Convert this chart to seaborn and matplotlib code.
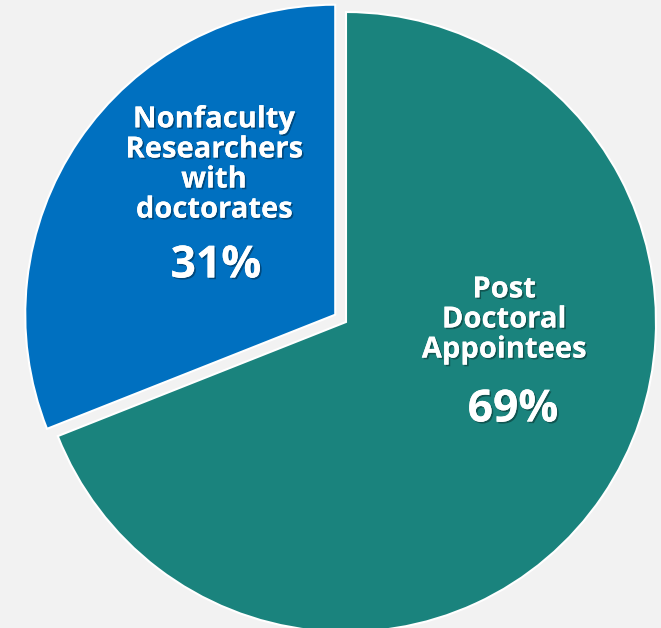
import matplotlib
matplotlib.use("Agg")
import matplotlib.pyplot as plt
import matplotlib.patheffects as pe
import seaborn as sns

# data
labels = ["Post\nDoctoral\nAppointees", "Nonfaculty\nResearchers\nwith\ndoctorates"]
shares = [69, 31]
colors = ["#1a837d", "#0070c0"]

sns.set_theme(style="white")
plt.rcParams['font.family'] = ['Open Sans', 'DejaVu Sans']

fig = plt.figure(figsize=(6.61, 6.28), dpi=100)
fig.patch.set_facecolor("#f2f2f2")
ax = fig.add_axes([0, 0, 1, 1])
ax.set_facecolor("#f2f2f2")

# work in pixel units, pie centre at (346, 322) from top-left
R = 310
wedges, _ = ax.pie(
    shares,
    colors=colors,
    startangle=90,
    counterclock=False,
    radius=R,
    explode=[0, 13],  # offset in data (pixel) units
    wedgeprops=dict(edgecolor="white", linewidth=1.5),
)
ax.set_xlim(-346, 661 - 346)
ax.set_ylim(-(628 - 322), 322)
ax.set_aspect("equal")
ax.axis("off")

shadow = [pe.withSimplePatchShadow(offset=(1.2, -1.2), shadow_rgbFace="black", alpha=0.35), pe.Normal()]


def txt(x, y, s, size, spacing=1.1):
    ax.text(x - 346, 322 - y, s, ha="center", va="center", color="white",
            fontsize=size, fontweight="bold", linespacing=spacing, path_effects=shadow)


txt(504, 320, labels[0], 21, 1.05)
txt(513, 410, f"{shares[0]}%", 32)
txt(214, 165, labels[1], 21, 1.05)
txt(216, 266, f"{shares[1]}%", 32)

fig.savefig("out.png", dpi=100, facecolor=fig.get_facecolor())
